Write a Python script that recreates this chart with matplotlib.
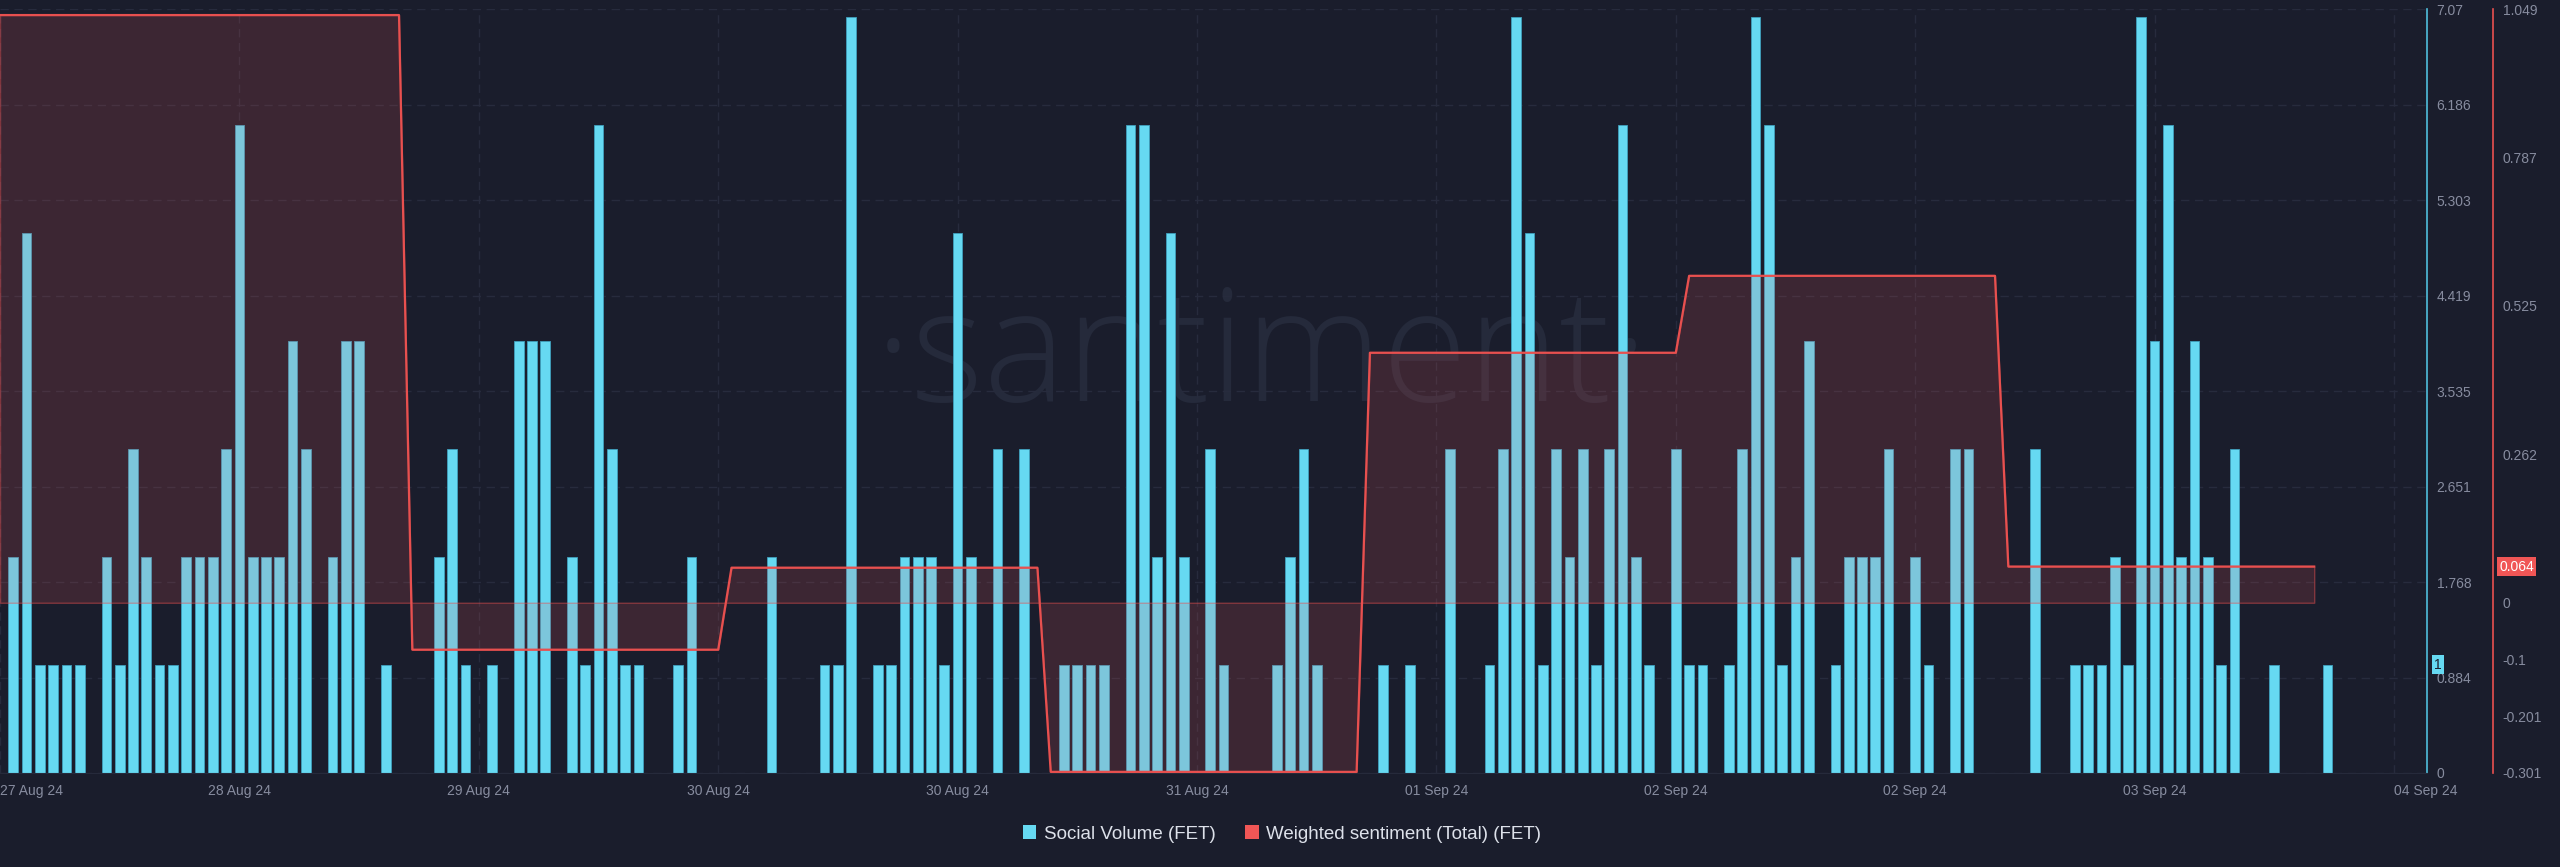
import numpy as np
import matplotlib.pyplot as plt
from matplotlib import transforms
from matplotlib.patches import Patch

plt.rcParams['font.family'] = ['Liberation Sans', 'DejaVu Sans']

# --- donnees ---
# social volume, une barre par heure (index 0 = debut du graphe)
volume = [
    0, 2, 5, 1, 1, 1, 1, 0, 2, 1, 3, 2, 1, 1, 2, 2, 2, 3, 6, 2,
    2, 2, 4, 3, 0, 2, 4, 4, 0, 1, 0, 0, 0, 2, 3, 1, 0, 1, 0, 4,
    4, 4, 0, 2, 1, 6, 3, 1, 1, 0, 0, 1, 2, 0, 0, 0, 0, 0, 2, 0,
    0, 0, 1, 1, 7, 0, 1, 1, 2, 2, 2, 1, 5, 2, 0, 3, 0, 3, 0, 0,
    1, 1, 1, 1, 0, 6, 6, 2, 5, 2, 0, 3, 1, 0, 0, 0, 1, 2, 3, 1,
    0, 0, 0, 0, 1, 0, 1, 0, 0, 3, 0, 0, 1, 3, 7, 5, 1, 3, 2, 3,
    1, 3, 6, 2, 1, 0, 3, 1, 1, 0, 1, 3, 7, 6, 1, 2, 4, 0, 1, 2,
    2, 2, 3, 0, 2, 1, 0, 3, 3, 0, 0, 0, 0, 3, 0, 0, 1, 1, 1, 2,
    1, 7, 4, 6, 2, 4, 2, 1, 3, 0, 0, 1, 0, 0, 0, 1,
]

# weighted sentiment : une valeur par jour (heure de debut / fin)
sent_start = [0, 31, 55, 79, 103, 127, 151]
sent_end = [30, 54, 78, 102, 126, 150, 174]
sent_values = [1.039, -0.083, 0.062, -0.299, 0.442, 0.578, 0.064]

tick_hours = [0, 18, 36, 54, 72, 90, 108, 126, 144, 162, 180]
tick_labels = ["27 Aug 24", "28 Aug 24", "29 Aug 24", "30 Aug 24", "30 Aug 24",
               "31 Aug 24", "01 Sep 24", "02 Sep 24", "02 Sep 24", "03 Sep 24",
               "04 Sep 24"]

vol_ticks = [0, 0.884, 1.768, 2.651, 3.535, 4.419, 5.303, 6.186, 7.07]
vol_labels = ["0", "0.884", "1.768", "2.651", "3.535", "4.419", "5.303", "6.186", "7.07"]
sent_ticks = [-0.301, -0.201, -0.1, 0, 0.262, 0.525, 0.787, 1.049]
sent_labels = ["-0.301", "-0.201", "-0.1", "0", "0.262", "0.525", "0.787", "1.049"]

# --- couleurs ---
BG = "#1a1d2c"
CYAN = "#66d9f2"
RED = "#e8504f"
GRID = "#272b3d"
TXT = "#878c9f"

W, H = 2560, 867
fig = plt.figure(figsize=(W / 100, H / 100), dpi=100, facecolor=BG)

# axe principal : barres (axe cyan a droite)
ax_right = 2427
ax = fig.add_axes([0, 1 - 773 / H, ax_right / W, (773 - 9.4) / H])
ax.set_facecolor(BG)

heures = np.arange(len(volume))
ax.bar(heures, volume, width=0.73, color=CYAN, edgecolor="#3f9fbd",
       linewidth=0.6, zorder=2)
ax.set_xlim(0, ax_right / 13.3)
ax.set_ylim(0, 7.07)

ax.set_xticks(tick_hours)
ax.set_xticklabels(tick_labels)
ax.tick_params(axis="x", length=0, pad=8, labelcolor=TXT, labelsize=10)
labels_x = ax.get_xticklabels()
labels_x[0].set_ha("left")
labels_x[-1].set_ha("left")

ax.grid(True, color=GRID, linestyle=(0, (6, 4)), linewidth=1, zorder=0)
for cote in ["top", "left"]:
    ax.spines[cote].set_visible(False)
ax.spines["right"].set_color("#4fbfdc")
ax.spines["right"].set_linewidth(1.2)
ax.spines["bottom"].set_color("#262a3b")

# filigrane
ax.text(1262 / W, 1 - 360 / H, "\u00b7santiment\u00b7", transform=fig.transFigure,
        fontsize=112, color="#252a3b", ha="center", va="center",
        family=["Open Sans", "DejaVu Sans"], fontweight="light", zorder=1)

# axe secondaire : sentiment (axe rouge)
ax2 = ax.twinx()
ax2.set_ylim(-0.301, 1.049)
ax2.spines["right"].set_position(("axes", 2493 / ax_right))
ax2.spines["right"].set_color(RED)
ax2.spines["right"].set_linewidth(1.2)
for cote in ["top", "left", "bottom"]:
    ax2.spines[cote].set_visible(False)

# twinx remet les graduations de ax a gauche : on les remet a droite
ax.yaxis.tick_right()
ax.set_yticks(vol_ticks)
ax.set_yticklabels(vol_labels)
ax.tick_params(axis="y", length=0, pad=7, labelcolor=TXT, labelsize=10,
               left=False, labelleft=False, right=True, labelright=True)

xs, ys = [], []
for debut, fin, val in zip(sent_start, sent_end, sent_values):
    xs += [debut, fin]
    ys += [val, val]
ax2.fill_between(xs, ys, 0, facecolor=(1.0, 0.36, 0.36, 0.15),
                 edgecolor=(0.91, 0.31, 0.31, 0.45), linewidth=1, zorder=3)
ax2.plot(xs, ys, color=RED, linewidth=1.6, zorder=4)

ax2.set_yticks(sent_ticks)
ax2.set_yticklabels(sent_labels)
ax2.tick_params(axis="y", length=0, pad=7, labelcolor=TXT, labelsize=10)

# etiquettes de derniere valeur
trans2 = transforms.blended_transform_factory(ax2.transAxes, ax2.transData)
ax2.text(2499 / ax_right, sent_values[-1], "%.3f" % sent_values[-1], transform=trans2,
         fontsize=10, color="white", ha="left", va="center", zorder=6,
         bbox=dict(boxstyle="square,pad=0.18", facecolor="#f05656", edgecolor="none"))
trans1 = transforms.blended_transform_factory(ax.transAxes, ax.transData)
ax.text(2434 / ax_right, volume[-1], str(volume[-1]), transform=trans1,
        fontsize=10, color="#1a1d2c", ha="left", va="center", zorder=6,
        bbox=dict(boxstyle="square,pad=0.18", facecolor=CYAN, edgecolor="none"),
        clip_on=False)

# legende
poignees = [Patch(facecolor=CYAN, edgecolor="none"),
            Patch(facecolor="#f05656", edgecolor="none")]
fig.legend(poignees, ["Social Volume (FET)", "Weighted sentiment (Total) (FET)"],
           loc="center", bbox_to_anchor=(1282 / W, 1 - 834 / H), ncol=2,
           frameon=False, fontsize=13.5, labelcolor="#dde1ea",
           handlelength=0.7, handleheight=0.7, handletextpad=0.4,
           columnspacing=1.6)

fig.savefig("out.png", dpi=100, facecolor=BG)
